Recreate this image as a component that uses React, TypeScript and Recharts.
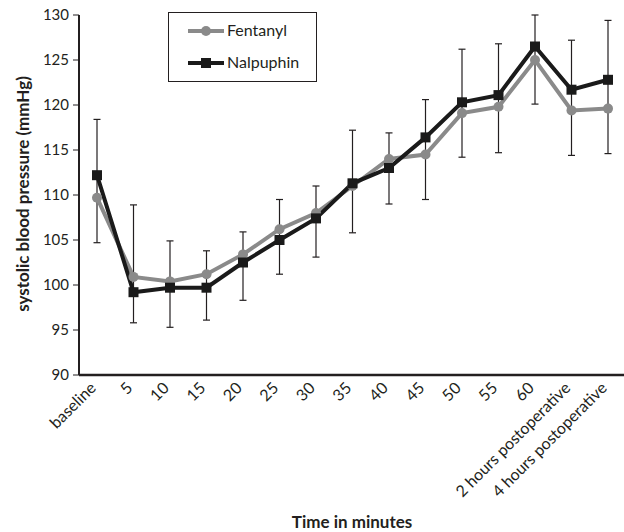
import { ErrorBar, Line, LineChart, XAxis, YAxis } from 'recharts'

const categories = [
	'baseline',
	'5',
	'10',
	'15',
	'20',
	'25',
	'30',
	'35',
	'40',
	'45',
	'50',
	'55',
	'60',
	'2 hours postoperative',
	'4 hours postoperative',
]
const fentanyl = [
	109.7, 100.9, 100.4, 101.2, 103.4, 106.2, 108.0, 111.0, 114.0, 114.5, 119.1,
	119.8, 125.0, 119.4, 119.6,
]
const nalpuphin = [
	112.2, 99.2, 99.7, 99.7, 102.5, 105.0, 107.4, 111.3, 113.0, 116.4, 120.3,
	121.1, 126.5, 121.7, 122.8,
]
const errorHigh = [
	118.4, 108.9, 104.9, 103.8, 105.9, 109.5, 111.0, 117.2, 116.9, 120.6, 126.2,
	126.8, 130.0, 127.2, 129.4,
]
const errorLow = [
	104.7, 95.8, 95.3, 96.1, 98.3, 101.2, 103.1, 105.8, 109.0, 109.5, 114.2,
	114.7, 120.1, 114.4, 114.6,
]
const yTicks = [90, 95, 100, 105, 110, 115, 120, 125, 130]

const FONT = 'Lato, "Open Sans", sans-serif'
const INK = '#231f20'
const GREY = '#8a8a8a'

const data = categories.map((name, i) => ({
	name,
	Fentanyl: fentanyl[i],
	Nalpuphin: nalpuphin[i],
	err: [nalpuphin[i] - errorLow[i], errorHigh[i] - nalpuphin[i]],
}))

const SquareDot = (props: any) => {
	const { cx, cy } = props
	if (cx == null || cy == null) return null
	return <rect x={cx - 5} y={cy - 5} width={10} height={10} fill="#1a1a1a" />
}

const RotatedTick = (props: any) => {
	const { x, y, payload } = props
	const ax = x
	const ay = y + 6
	return (
		<text
			x={ax}
			y={ay}
			transform={`rotate(-45 ${ax} ${ay})`}
			textAnchor="end"
			fontSize={16}
			fontFamily={FONT}
			fill={INK}
		>
			{payload.value}
		</text>
	)
}

// legend drawn as a plain box so it doesn't take space from the plot
const LegendBox = () => (
	<div
		style={{
			position: 'absolute',
			left: 168,
			top: 12,
			width: 147,
			height: 68,
			border: `1px solid ${INK}`,
			background: '#fff',
		}}
	>
		<svg width={147} height={68}>
			<line x1={19} y1={18} x2={55} y2={18} stroke={GREY} strokeWidth={4} />
			<circle cx={37} cy={18} r={5} fill={GREY} />
			<text x={58} y={23} fontSize={16} fontFamily={FONT} fill={INK}>
				Fentanyl
			</text>
			<line x1={19} y1={50} x2={55} y2={50} stroke="#1a1a1a" strokeWidth={4} />
			<rect x={32} y={45} width={10} height={10} fill="#1a1a1a" />
			<text x={58} y={55} fontSize={16} fontFamily={FONT} fill={INK}>
				Nalpuphin
			</text>
		</svg>
	</div>
)

export default function App() {
	return (
		<div
			style={{
				position: 'absolute',
				left: 0,
				top: 0,
				width: 624,
				height: 532,
				overflow: 'hidden',
				background: '#fff',
			}}
		>
			<LineChart
				width={626}
				height={532}
				data={data}
				margin={{ top: 15, right: 0, left: 0, bottom: 0 }}
			>
				<XAxis
					dataKey="name"
					interval={0}
					height={157}
					padding={{ left: 18, right: 18 }}
					tickLine={false}
					axisLine={{ stroke: INK, strokeWidth: 2.5 }}
					tick={<RotatedTick />}
					label={{
						content: () => (
							<text
								x={352}
								y={528}
								textAnchor="middle"
								fontSize={17}
								fontWeight="bold"
								fontFamily={FONT}
								fill={INK}
							>
								Time in minutes
							</text>
						),
					}}
				/>
				<YAxis
					width={79}
					domain={[90, 130]}
					ticks={yTicks}
					allowDataOverflow
					tickSize={6}
					tickMargin={4}
					tickLine={{ stroke: INK, strokeWidth: 1 }}
					axisLine={{ stroke: INK, strokeWidth: 2 }}
					tick={{ fontSize: 15, fontFamily: FONT, fill: INK }}
					label={{
						content: () => (
							<text
								x={29}
								y={194}
								transform="rotate(-90 29 194)"
								textAnchor="middle"
								fontSize={17}
								fontWeight="bold"
								fontFamily={FONT}
								fill={INK}
							>
								systolic blood pressure (mmHg)
							</text>
						),
					}}
				/>
				<Line
					dataKey="Nalpuphin"
					stroke="none"
					dot={false}
					activeDot={false}
					legendType="none"
					isAnimationActive={false}
				>
					<ErrorBar
						dataKey="err"
						direction="y"
						width={3.5}
						stroke={INK}
						strokeWidth={1.2}
						isAnimationActive={false}
					/>
				</Line>
				<Line
					dataKey="Fentanyl"
					stroke={GREY}
					strokeWidth={4}
					dot={{ r: 5, fill: GREY, stroke: GREY, strokeWidth: 0 }}
					activeDot={false}
					isAnimationActive={false}
				/>
				<Line
					dataKey="Nalpuphin"
					stroke="#1a1a1a"
					strokeWidth={4}
					dot={<SquareDot />}
					activeDot={false}
					isAnimationActive={false}
				/>
			</LineChart>
			<LegendBox />
		</div>
	)
}
